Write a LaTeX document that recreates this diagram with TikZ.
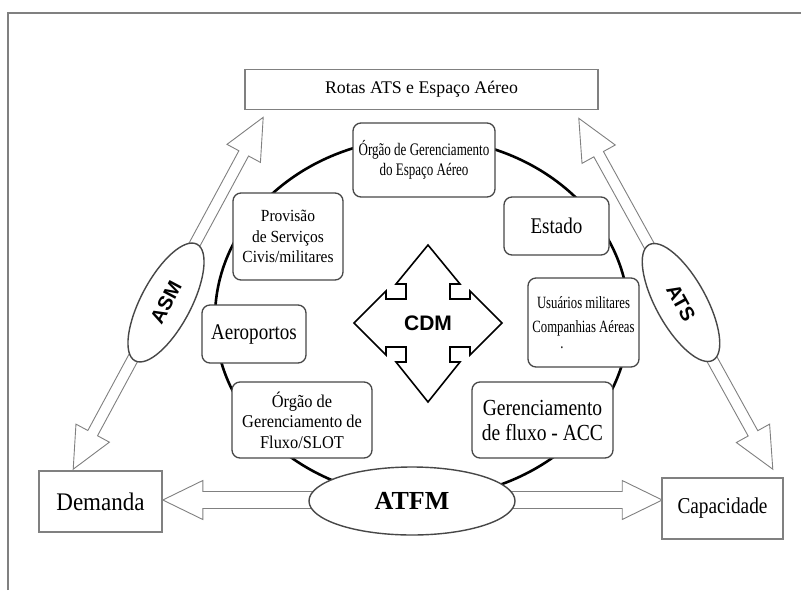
\documentclass[tikz,border=0pt]{standalone}
\usepackage{fontspec}
\setmainfont{Liberation Serif}
\newfontfamily\arialfont{Liberation Sans}
\newfontfamily\condA[FakeStretch=0.74]{Liberation Serif}
\newfontfamily\condB[FakeStretch=0.85]{Liberation Serif}
\newfontfamily\condC[FakeStretch=0.91]{Liberation Serif}
\usetikzlibrary{calc,shapes.geometric}
\newcommand{\dblarrow}[6]{%
  \coordinate (#1-a) at ($(#2)!#4!(#3)$);
  \coordinate (#1-b) at ($(#3)!#4!(#2)$);
  \draw[hollow] (#2) -- ($(#1-a)!#5!90:(#3)$) -- ($(#1-a)!#6!90:(#3)$)
    -- ($(#1-b)!#6!-90:(#2)$) -- ($(#1-b)!#5!-90:(#2)$) -- (#3)
    -- ($(#1-b)!#5!90:(#2)$) -- ($(#1-b)!#6!90:(#2)$)
    -- ($(#1-a)!#6!-90:(#3)$) -- ($(#1-a)!#5!-90:(#3)$) -- cycle;
}
\begin{document}
\begin{tikzpicture}[x=1pt,y=-1pt,
  frameline/.style={draw=black!50, line width=1.5pt},
  plainbox/.style={draw=black!50, line width=1.6pt, fill=white, rectangle, inner sep=0pt},
  rbox/.style={draw=black!72, line width=1.3pt, fill=white, rounded corners=8pt, inner sep=0pt, align=center},
  oval/.style={draw=black!72, line width=1.4pt, fill=white, ellipse, inner sep=0pt},
  ring/.style={draw=black, line width=2.6pt},
  hollow/.style={draw=black!50, line width=0.9pt, fill=white, line join=miter},
  quad/.style={draw=black, line width=1.6pt, fill=white, line join=miter},
  sanslabel/.style={font=\arialfont\bfseries\fontsize{20}{22}\selectfont}
]
\useasboundingbox (0,0) rectangle (801,590);
\fill[white] (0,0) rectangle (801,590);
% outer frame
\draw[frameline] (8,590) -- (8,13) -- (801,13);

% rectangles
\node[plainbox, minimum width=353pt, minimum height=40pt, font=\fontsize{17.8}{20}\selectfont] (top) at (421.5,89.5) {Rotas ATS e Espaço Aéreo};
\node[plainbox, minimum width=123pt, minimum height=61pt, font=\condC\fontsize{25.3}{27}\selectfont] (dem) at (100.5,501.5) {Demanda};
\node[plainbox, minimum width=121pt, minimum height=61pt, font=\condB\fontsize{22.7}{24}\selectfont] (cap) at (722.5,508.5) {Capacidade};

% ring
\coordinate (ringc) at (422,318);
\draw[ring] (ringc) ellipse [x radius=207pt, y radius=180pt];

% arrow end points
\coordinate (asmlo) at ($(dem.north west)+(35,-1)$);
\coordinate (asmhi) at ($(top.south west)+(19,7)$);
\coordinate (atshi) at ($(top.south east)+(-20,8)$);
\coordinate (atslo) at ($(cap.north east)+(-11,-8)$);
\coordinate (hl) at ($(dem.east)+(0,-1.5)$);
\coordinate (hr) at ($(cap.west)+(1,-8.5)$);

\dblarrow{asmarr}{asmlo}{asmhi}{41pt}{19pt}{5.5pt}
\dblarrow{atsarr}{atshi}{atslo}{41pt}{19pt}{5.5pt}
\dblarrow{atfmarr}{hl}{hr}{40pt}{19.5pt}{8.5pt}

% ellipses
\node[oval, minimum width=206pt, minimum height=68pt, font=\fontsize{26}{28}\selectfont\bfseries] (atfm) at (412,501) {ATFM};
\node[oval, minimum width=132pt, minimum height=50pt, rotate=62, sanslabel] (asm) at (166,302.5) {ASM};
\node[oval, minimum width=132pt, minimum height=50pt, rotate=-61, sanslabel] (ats) at (681,302.5) {ATS};

% rounded boxes
\node[rbox, minimum width=142pt, minimum height=74pt, font=\condA\fontsize{17.6}{20}\selectfont] (oge) at (424,160) {Órgão de Gerenciamento\\do Espaço Aéreo};
\node[rbox, minimum width=110pt, minimum height=87pt, font=\condC\fontsize{17}{20.5}\selectfont] (prov) at (288,236.5) {Provisão\\de Serviços\\Civis/militares};
\node[rbox, minimum width=104pt, minimum height=58pt, font=\condB\fontsize{22.4}{24}\selectfont] (aero) at (254,334) {Aeroportos};
\node[rbox, minimum width=140pt, minimum height=76pt, font=\condC\fontsize{18}{20.5}\selectfont] (slot) at (302,420) {Órgão de\\Gerenciamento de\\Fluxo/SLOT};
\node[rbox, minimum width=105pt, minimum height=58pt, font=\condB\fontsize{22.4}{24}\selectfont] (estado) at (556.5,226) {Estado};
\node[rbox, minimum width=111pt, minimum height=89pt, font=\condA\fontsize{17.2}{24}\selectfont] (usu) at (583.5,322.5) {Usuários militares\\Companhias Aéreas\\[-8pt]\hspace*{-43pt}.};
\node[rbox, minimum width=141pt, minimum height=76pt, font=\condB\fontsize{23}{25}\selectfont] (acc) at (542.5,420) {Gerenciamento\\de fluxo - ACC};

% CDM four-way arrow
\coordinate (cdmc) at (428,323);
\draw[quad, shift={(cdmc)}] (0,-78) -- (32,-39) -- (22,-39) -- (22,-24) -- (42,-24) -- (42,-32)
  -- (74,0) -- (42,32) -- (42,24) -- (22,24) -- (22,39) -- (32,39) -- (0,79)
  -- (-32,39) -- (-22,39) -- (-22,24) -- (-42,24) -- (-42,32) -- (-74,0)
  -- (-42,-32) -- (-42,-24) -- (-22,-24) -- (-22,-39) -- (-32,-39) -- cycle;
\node[font=\arialfont\bfseries\fontsize{21}{22}\selectfont] (cdm) at (cdmc) {CDM};
\end{tikzpicture}
\end{document}
